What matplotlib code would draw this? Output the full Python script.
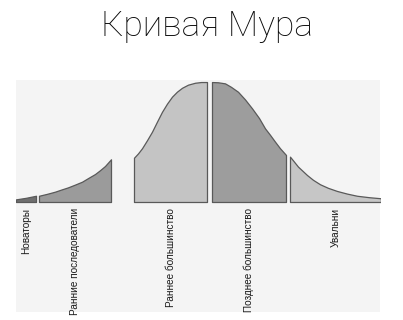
import matplotlib.pyplot as plt

plt.rcParams['font.family'] = ['Liberation Sans', 'DejaVu Sans']

# curve points: x along the axis, height in % of the peak
innov_x = [0, 10, 20]
innov_h = [2.2, 3.5, 5.2]
early_ad_x = [23, 31, 39, 45, 52, 59, 66, 72, 79, 84, 89, 92, 95]
early_ad_h = [5.2, 6.8, 8.6, 10.3, 12.2, 14.5, 16.9, 19.9, 23.3, 26.5, 30.0, 32.8, 35.6]
early_maj_x = [118, 122, 126, 131, 136, 141, 146, 151, 156, 161, 166, 172, 179, 185, 191]
early_maj_h = [36.9, 40.5, 44.8, 51.5, 58.6, 67.0, 75.2, 82.0, 87.8, 92.0, 95.2, 97.8,
               99.4, 100.0, 100.0]
late_maj_x = [196, 202, 209, 215, 222, 229, 236, 243, 249, 254, 259, 264, 270]
late_maj_h = [100.0, 99.8, 98.9, 96.0, 91.9, 85.5, 78.1, 70.0, 61.4, 56.0, 50.3, 44.8, 39.2]
lag_x = [274, 282, 291, 297, 304, 312, 321, 331, 341, 353, 365]
lag_h = [37.8, 29.5, 22.5, 18.5, 14.8, 11.8, 9.2, 7.0, 5.2, 4.0, 3.1]

labels = ["Новаторы", "Ранние последователи", "Раннее большинство",
          "Позднее большинство", "Увальни"]

segments = [(innov_x, innov_h), (early_ad_x, early_ad_h),
            (early_maj_x, early_maj_h), (late_maj_x, late_maj_h),
            (lag_x, lag_h)]
colors = ["#6f6f6f", "#9b9b9b", "#c4c4c4", "#9d9d9d", "#c6c6c6"]

fig = plt.figure(figsize=(4.03, 3.2), dpi=100)
ax = fig.add_axes([16 / 403, 8 / 320, 364 / 403, 232 / 320])
ax.set_facecolor("#f4f4f4")

for (xs, hs), c, lab in zip(segments, colors, labels):
    ax.fill_between(xs, 0, hs, facecolor=c, edgecolor="#595959", linewidth=0.9)
    ax.text((xs[0] + xs[-1]) / 2, -5, lab, rotation=90, ha="center", va="top",
            fontsize=7.2, color="#1a1a1a")

ax.set_xlim(0, 364)
ax.set_ylim(-91.7, 101.7)
for s in ax.spines.values():
    s.set_visible(False)
ax.set_xticks([])
ax.set_yticks([])

fig.text(0.513, 0.97, "Кривая Мура", ha="center", va="top",
         fontsize=25.5, family=["Roboto", "DejaVu Sans"], fontweight="light",
         color="#0a0a0a")

fig.savefig("out.png", dpi=100)
